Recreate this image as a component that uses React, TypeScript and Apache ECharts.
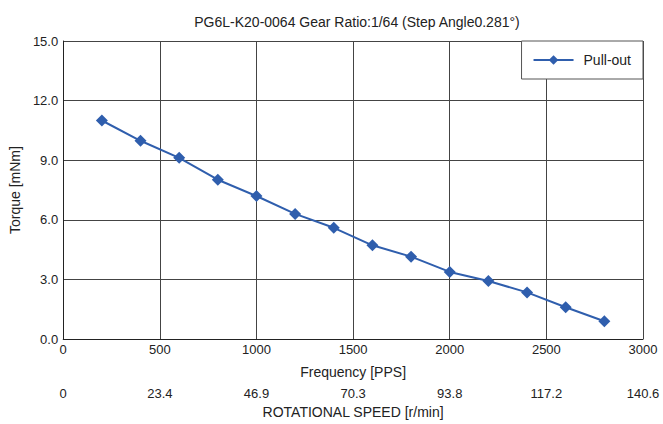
import React, { useEffect, useRef } from "react";
import * as echarts from "echarts";

const frequencies = [200, 400, 600, 800, 1000, 1200, 1400, 1600, 1800, 2000, 2200, 2400, 2600, 2800];
const pullOut = [11.0, 9.98, 9.12, 8.02, 7.2, 6.3, 5.6, 4.72, 4.15, 3.38, 2.92, 2.35, 1.6, 0.9];
const rpmLabels = ["0", "23.4", "46.9", "70.3", "93.8", "117.2", "140.6"];
const yTicks = ["0.0", "3.0", "6.0", "9.0", "12.0", "15.0"];
const freqTicks = ["0", "500", "1000", "1500", "2000", "2500", "3000"];

const FONT = "Liberation Sans, Arial, sans-serif";

export default function App() {
  const ref = useRef<HTMLDivElement>(null);
  useEffect(() => {
    const chart = echarts.init(ref.current!, null, { renderer: "svg" });
    chart.setOption({
      animation: false,
      textStyle: { fontFamily: FONT },
      title: {
        text: "PG6L-K20-0064 Gear Ratio:1/64 (Step Angle0.281°)",
        left: 352,
        top: 10,
        textAlign: "center",
        textStyle: { fontFamily: FONT, fontSize: 14, fontWeight: "normal", color: "#222" },
      },
      legend: {
        right: 20,
        top: 41,
        orient: "vertical",
        backgroundColor: "#fff",
        borderColor: "#555",
        borderWidth: 1,
        borderRadius: 0,
        padding: [12, 12, 12, 11],
        itemWidth: 40,
        itemHeight: 12,
        itemGap: 6,
        textStyle: { fontFamily: FONT, fontSize: 14, color: "#222", padding: [0, 0, 0, 5] },
        data: ["Pull-out"],
      },
      grid: { left: 62, right: 20, top: 41, bottom: 82, show: false },
      xAxis: [
        {
          type: "value",
          min: 0,
          max: 3000,
          interval: 500,
          position: "bottom",
          name: "Frequency [PPS]",
          nameLocation: "middle",
          nameGap: 26,
          nameTextStyle: { fontFamily: FONT, fontSize: 14, color: "#222" },
          axisLine: { show: true, lineStyle: { color: "#222", width: 1 } },
          axisTick: { show: false },
          axisLabel: {
            margin: 4,
            fontFamily: FONT,
            fontSize: 13,
            color: "#222",
            formatter: (v: number) => freqTicks[Math.round(v / 500)] ?? "",
          },
          splitLine: { show: true, lineStyle: { color: "#444", width: 1 } },
        },
        {
          type: "value",
          min: 0,
          max: 3000,
          interval: 500,
          position: "bottom",
          offset: 44,
          name: "ROTATIONAL SPEED [r/min]",
          nameLocation: "middle",
          nameGap: 18,
          nameTextStyle: { fontFamily: FONT, fontSize: 14, color: "#222" },
          axisLine: { show: false },
          axisTick: { show: false },
          axisLabel: {
            margin: 4,
            fontFamily: FONT,
            fontSize: 13,
            color: "#222",
            formatter: (v: number) => rpmLabels[Math.round(v / 500)] ?? "",
          },
          splitLine: { show: false },
        },
      ],
      yAxis: {
        type: "value",
        min: 0,
        max: 15,
        interval: 3,
        name: "Torque [mNm]",
        nameLocation: "middle",
        nameGap: 38,
        nameTextStyle: { fontFamily: FONT, fontSize: 14, color: "#222" },
        axisLine: { show: true, lineStyle: { color: "#222", width: 1 } },
        axisTick: { show: false },
        axisLabel: {
          margin: 5,
          fontFamily: FONT,
          fontSize: 13,
          color: "#222",
          formatter: (v: number) => yTicks[Math.round(v / 3)] ?? "",
        },
        splitLine: { show: true, lineStyle: { color: "#444", width: 1 } },
      },
      series: [
        {
          name: "Pull-out",
          type: "line",
          xAxisIndex: 0,
          data: frequencies.map((f, i) => [f, pullOut[i]]),
          symbol: "diamond",
          symbolSize: 12,
          itemStyle: { color: "#2f5ead" },
          lineStyle: { color: "#2f5ead", width: 2 },
        },
      ],
    });
    return () => chart.dispose();
  }, []);
  return <div ref={ref} style={{ width: 663, height: 424, position: "absolute", left: 0, top: 0, background: "#fff" }} />;
}
